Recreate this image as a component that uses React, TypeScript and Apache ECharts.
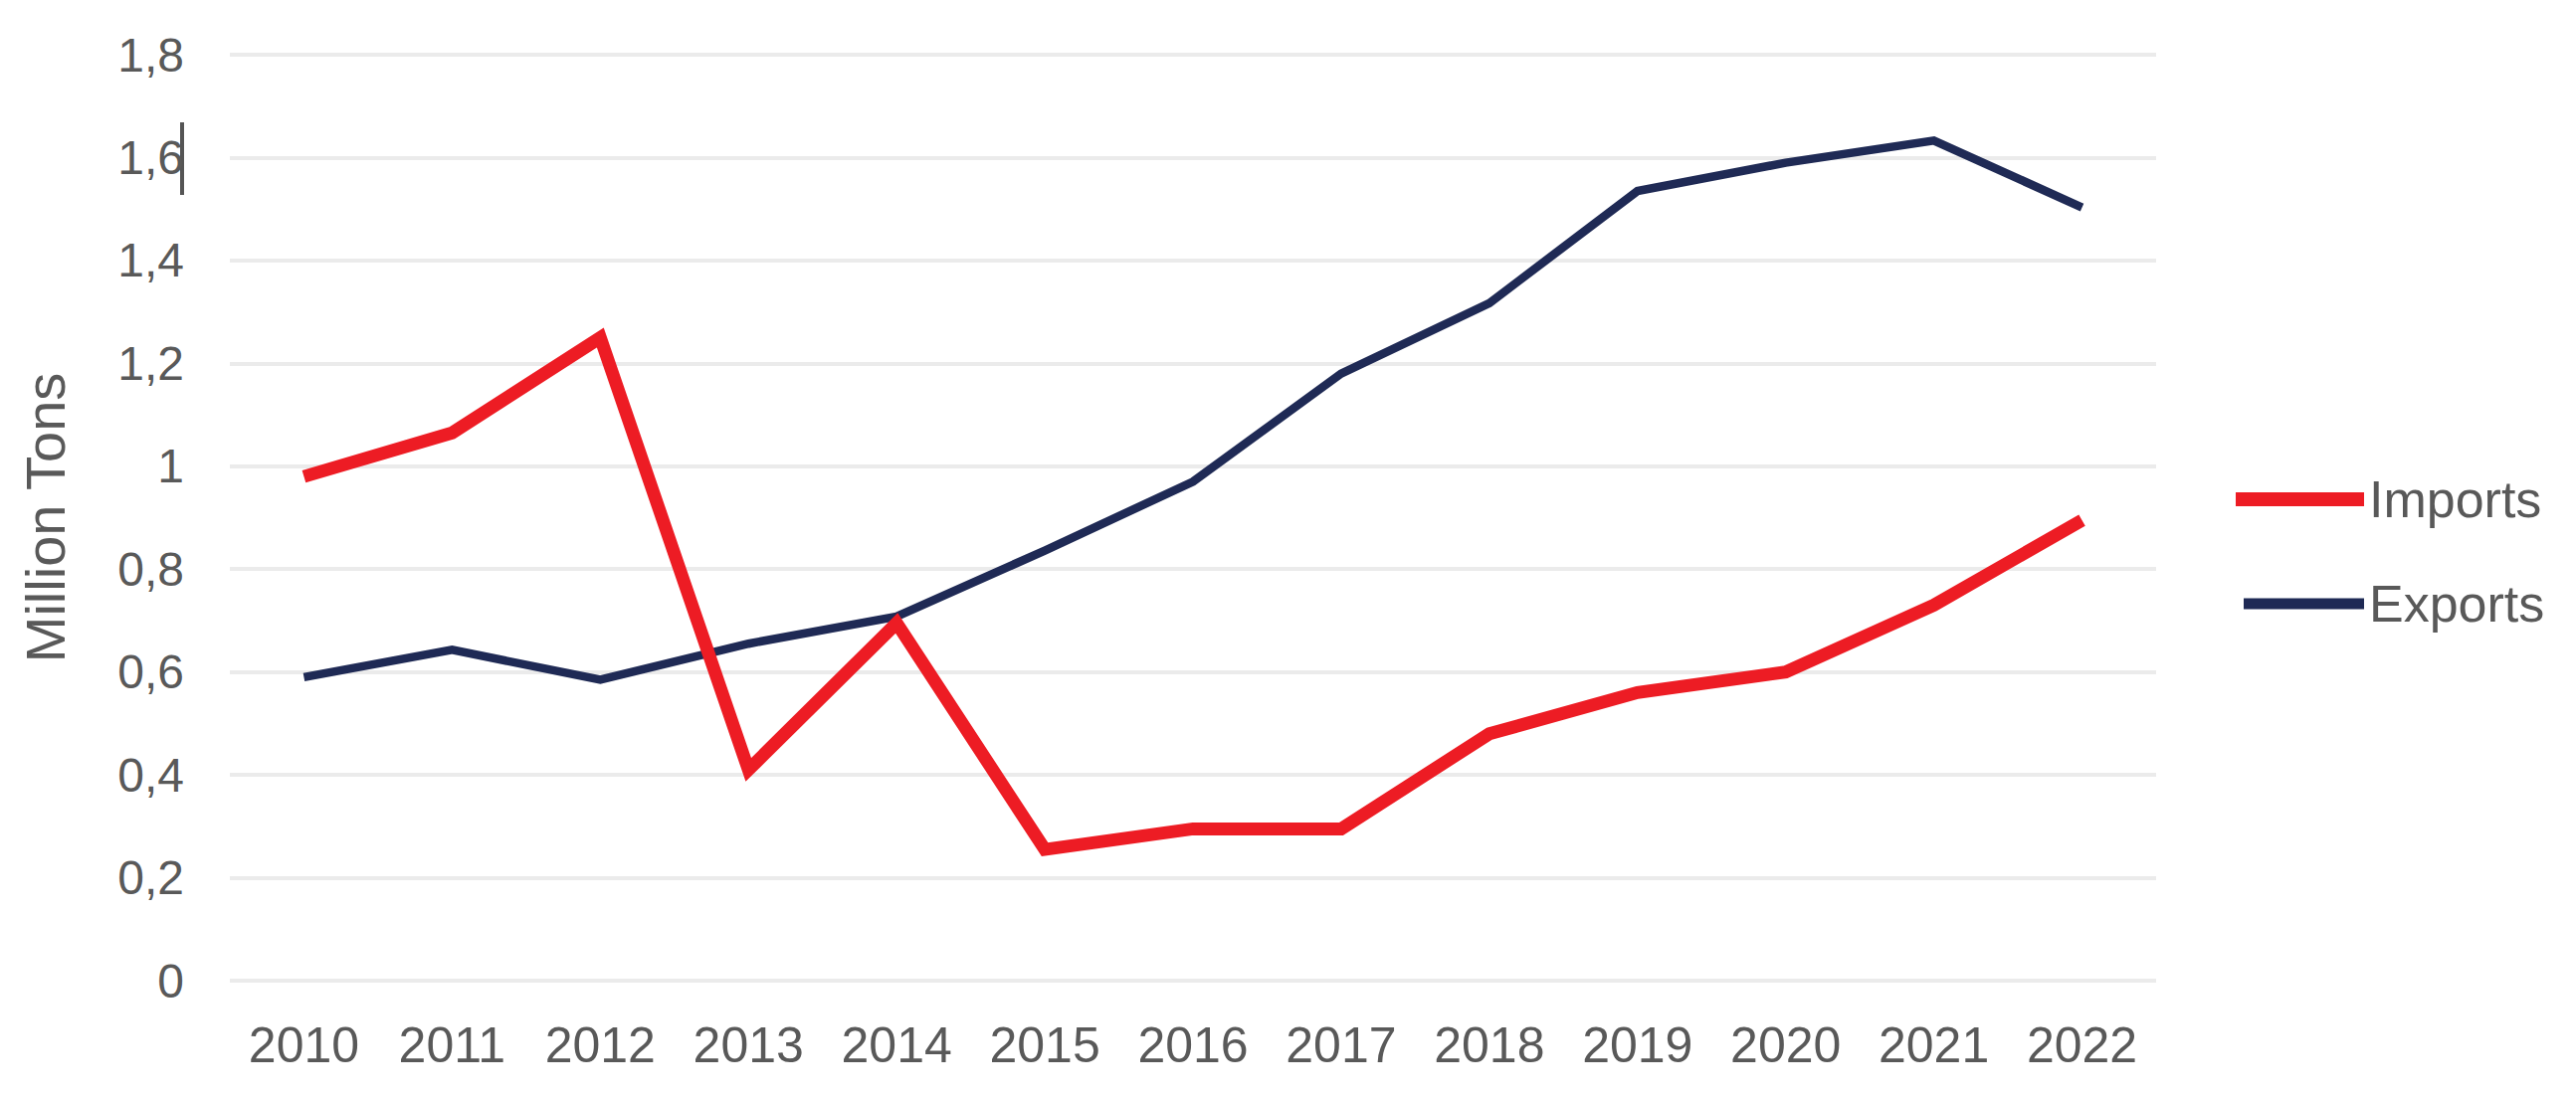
import React, { useEffect, useRef } from "react";
import * as echarts from "echarts";

const years = ["2010", "2011", "2012", "2013", "2014", "2015", "2016", "2017", "2018", "2019", "2020", "2021", "2022"];
const imports = [0.98, 1.065, 1.25, 0.41, 0.695, 0.255, 0.295, 0.295, 0.48, 0.56, 0.6, 0.73, 0.895];
const exports = [0.59, 0.643, 0.585, 0.655, 0.708, 0.836, 0.97, 1.18, 1.317, 1.535, 1.59, 1.633, 1.503];
const yTicks = { min: 0, max: 1.8, interval: 0.2 };
const seriesNames = { imports: "Imports", exports: "Exports" };
const yAxisTitle = "Million Tons";

const RED = "#ED1C24";
const NAVY = "#1F2A55";
const GREY = "#595959";
const FONT = "Liberation Sans, Arial, sans-serif";

export default function App() {
  const ref = useRef<HTMLDivElement>(null);
  useEffect(() => {
    if (!ref.current) return;
    const chart = echarts.init(ref.current, undefined, { renderer: "svg" });
    chart.setOption({
      animation: false,
      backgroundColor: "#ffffff",
      textStyle: { fontFamily: FONT },
      grid: { left: 231, right: 422, top: 55, bottom: 119, containLabel: false },
      legend: [
        {
          left: 2247,
          top: 476,
          itemWidth: 129,
          itemHeight: 14,
          itemGap: 0,
          padding: 0,
          textStyle: { fontSize: 52, color: GREY, fontFamily: FONT },
          data: [{ name: seriesNames.imports, icon: "rect", itemStyle: { color: RED } }],
        },
        {
          left: 2255,
          top: 581,
          itemWidth: 121,
          itemHeight: 11,
          itemGap: 0,
          padding: 0,
          textStyle: { fontSize: 52, color: GREY, fontFamily: FONT },
          data: [{ name: seriesNames.exports, icon: "rect", itemStyle: { color: NAVY } }],
        },
      ],
      xAxis: {
        type: "category",
        data: years,
        boundaryGap: true,
        axisLine: { show: false },
        axisTick: { show: false },
        axisLabel: { fontSize: 50, color: GREY, margin: 40, fontFamily: FONT },
        splitLine: { show: false },
      },
      yAxis: {
        type: "value",
        min: yTicks.min,
        max: yTicks.max,
        interval: yTicks.interval,
        name: yAxisTitle,
        nameLocation: "middle",
        nameRotate: 90,
        nameGap: 158,
        nameTextStyle: { fontSize: 56, color: GREY, fontFamily: FONT },
        axisLine: { show: false },
        axisTick: { show: false },
        axisLabel: {
          fontSize: 48,
          color: GREY,
          margin: 46,
          fontFamily: FONT,
          padding: [0, 0, 20, 0],
          formatter: (v: number) => String(Math.round(v * 10) / 10).replace(".", ","),
        },
        splitLine: { show: true, lineStyle: { color: "#ebebeb", width: 4 } },
      },
      graphic: [
        {
          type: "line",
          shape: { x1: 183, y1: 123, x2: 183, y2: 196 },
          style: { stroke: "#555555", lineWidth: 4 },
          silent: true,
        },
      ],
      series: [
        {
          name: seriesNames.exports,
          type: "line",
          data: exports,
          symbol: "none",
          smooth: false,
          lineStyle: { color: NAVY, width: 8.5, join: "miter" },
          itemStyle: { color: NAVY },
        },
        {
          name: seriesNames.imports,
          type: "line",
          data: imports,
          symbol: "none",
          smooth: false,
          lineStyle: { color: RED, width: 13, join: "miter" },
          itemStyle: { color: RED },
        },
      ],
    });
    return () => chart.dispose();
  }, []);
  return (
    <div
      ref={ref}
      style={{ position: "fixed", left: 0, top: 0, width: "2589px", height: "1105px", background: "#fff" }}
    />
  );
}
